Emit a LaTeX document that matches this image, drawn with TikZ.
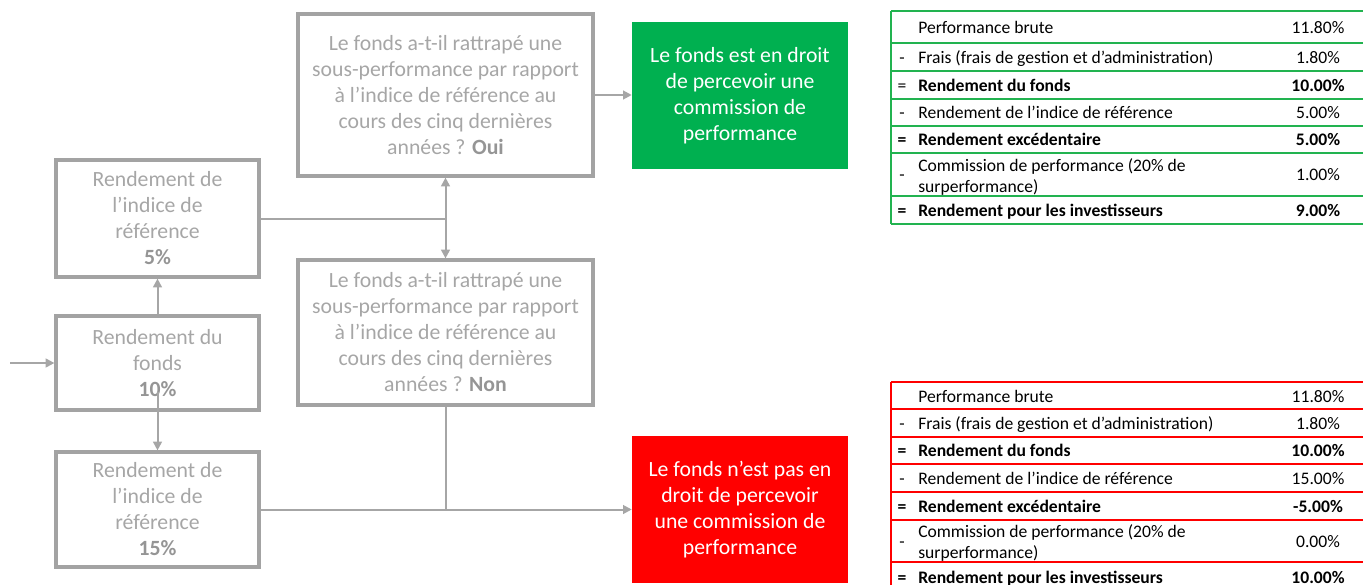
\documentclass[tikz,border=0pt]{standalone}
\usepackage{fontspec}
\setmainfont{Carlito}
\usetikzlibrary{arrows.meta,calc}
\definecolor{boxgray}{HTML}{A3A3A3}
\definecolor{linegray}{HTML}{A6A6A6}
\definecolor{txtgray}{HTML}{A6A6A6}
\definecolor{boldgray}{HTML}{959595}
\definecolor{okgreen}{HTML}{00B050}
\definecolor{nored}{HTML}{FF0000}
\definecolor{tgreen}{HTML}{22B350}
\newcommand{\bg}[1]{\textcolor{boldgray}{\textbf{#1}}}
\tikzset{
  graybox/.style={draw=boxgray, line width=2.4pt, rectangle, inner sep=0pt,
    align=center, text=txtgray, font=\fontsize{16.3}{19.5}\selectfont},
  resbox/.style={rectangle, inner sep=0pt, align=center, text=white,
    minimum width=162pt, minimum height=110.25pt, font=\fontsize{16.3}{19.5}\selectfont},
  conn/.style={draw=linegray, line width=1.5pt},
  arr/.style={conn, -{Triangle[length=6.5pt,width=6.5pt]}},
  darr/.style={conn, {Triangle[length=6.5pt,width=6.5pt]}-{Triangle[length=6.5pt,width=6.5pt]}},
  tsign/.style={inner sep=0pt, yshift=-1.5pt, font=\fontsize{13.2}{15.75}\selectfont},
  ttext/.style={inner sep=0pt, yshift=-1.5pt, anchor=west, align=left, font=\fontsize{13.2}{15.75}\selectfont},
  tval/.style={inner sep=0pt, yshift=-1.5pt, font=\fontsize{13.2}{15.75}\selectfont},
}
\begin{document}
\begin{tikzpicture}[x=0.75pt,y=-0.75pt]
\useasboundingbox (0,0) rectangle (1363,585);
\clip (0,0) rectangle (1363,585);

% left boxes
\node[graybox, minimum width=152.25pt, minimum height=87.75pt] (A) at (157.5,218.5)
  {Rendement de\\l’indice de\\référence\\\bg{5\%}};
\node[graybox, minimum width=152.25pt, minimum height=70.5pt] (B) at (157.5,363)
  {Rendement du\\fonds\\\bg{10\%}};
\node[graybox, minimum width=152.25pt, minimum height=86.25pt] (C) at (157.5,509.5)
  {Rendement de\\l’indice de\\référence\\\bg{15\%}};

% question boxes
\node[graybox, minimum width=221.25pt, minimum height=121.5pt] (Q1) at (445.5,95)
  {Le fonds a-t-il rattrapé une\\sous-performance par rapport\\à l’indice de référence au\\cours des cinq dernières\\années ? \bg{Oui}};
\node[graybox, minimum width=221.25pt, minimum height=108.75pt] (Q2) at (445.5,332.5)
  {Le fonds a-t-il rattrapé une\\sous-performance par rapport\\à l’indice de référence au\\cours des cinq dernières\\années ? \bg{Non}};

% result boxes
\node[resbox, fill=okgreen] (G) at (740,95.5)
  {Le fonds est en droit\\de percevoir une\\commission de\\performance};
\node[resbox, fill=nored] (R) at (740,509.5)
  {Le fonds n’est pas en\\droit de percevoir\\une commission de\\performance};

% connectors
\coordinate (start) at (10,363);
\draw[arr] (start) -- (B.west);
\draw[arr] (B.north) -- (A.south);
\coordinate (bin) at ($(B.south)+(0,-20)$);
\draw[arr] (bin) -- (C.north);
\draw[conn] (A.east) -- (A.east -| Q1.south);
\draw[darr] (Q1.south) -- (Q2.north);
\draw[arr] (Q1.east) -- (Q1.east -| G.west);
\draw[conn] (Q2.south) -- (Q2.south |- C.east);
\draw[arr] (C.east) -- (R.west);

% green table
\foreach \yy in {11,43,71,99,126,153,196,224}
  \draw[tgreen, line width=1.5pt] (891,\yy) -- (1370,\yy);
\draw[tgreen, line width=1.5pt] (891,11) -- (891,224);
\node[ttext] (g1) at (918,27) {\strut Performance brute};
\node[tval] (g1v) at (1318,27) {\strut 11.80\%};
\node[tsign] (g2s) at (902,57) {\strut -};
\node[ttext] (g2) at (918,57) {\strut Frais (frais de gestion et d’administration)};
\node[tval] (g2v) at (1318,57) {\strut 1.80\%};
\node[tsign] (g3s) at (902,85) {\strut =};
\node[ttext] (g3) at (918,85) {\strut\textbf{Rendement du fonds}};
\node[tval] (g3v) at (1318,85) {\strut\textbf{10.00\%}};
\node[tsign] (g4s) at (902,112.5) {\strut -};
\node[ttext] (g4) at (918,112.5) {\strut Rendement de l’indice de référence};
\node[tval] (g4v) at (1318,112.5) {\strut 5.00\%};
\node[tsign] (g5s) at (902,139.5) {\strut\textbf{=}};
\node[ttext] (g5) at (918,139.5) {\strut\textbf{Rendement excédentaire}};
\node[tval] (g5v) at (1318,139.5) {\strut\textbf{5.00\%}};
\node[tsign] (g6s) at (902,174.5) {\strut -};
\node[ttext] (g6) at (918,174.5) {Commission de performance (20\% de\\surperformance)};
\node[tval] (g6v) at (1318,174.5) {\strut 1.00\%};
\node[tsign] (g7s) at (902,210) {\strut\textbf{=}};
\node[ttext] (g7) at (918,210) {\strut\textbf{Rendement pour les investisseurs}};
\node[tval] (g7v) at (1318,210) {\strut\textbf{9.00\%}};

% red table
\foreach \yy in {382,409,437,464,492,520,562,590}
  \draw[nored, line width=1.5pt] (891,\yy) -- (1370,\yy);
\draw[nored, line width=1.5pt] (891,382) -- (891,590);
\node[ttext] (r1) at (918,396) {\strut Performance brute};
\node[tval] (r1v) at (1318,396) {\strut 11.80\%};
\node[tsign] (r2s) at (902,423) {\strut -};
\node[ttext] (r2) at (918,423) {\strut Frais (frais de gestion et d’administration)};
\node[tval] (r2v) at (1318,423) {\strut 1.80\%};
\node[tsign] (r3s) at (902,450.5) {\strut\textbf{=}};
\node[ttext] (r3) at (918,450.5) {\strut\textbf{Rendement du fonds}};
\node[tval] (r3v) at (1318,450.5) {\strut\textbf{10.00\%}};
\node[tsign] (r4s) at (902,478) {\strut -};
\node[ttext] (r4) at (918,478) {\strut Rendement de l’indice de référence};
\node[tval] (r4v) at (1318,478) {\strut 15.00\%};
\node[tsign] (r5s) at (902,506) {\strut\textbf{=}};
\node[ttext] (r5) at (918,506) {\strut\textbf{Rendement excédentaire}};
\node[tval] (r5v) at (1318,506) {\strut\textbf{-5.00\%}};
\node[tsign] (r6s) at (902,541) {\strut -};
\node[ttext] (r6) at (918,541) {Commission de performance (20\% de\\surperformance)};
\node[tval] (r6v) at (1318,541) {\strut 0.00\%};
\node[tsign] (r7s) at (902,577) {\strut\textbf{=}};
\node[ttext] (r7) at (918,577) {\strut\textbf{Rendement pour les investisseurs}};
\node[tval] (r7v) at (1318,577) {\strut\textbf{10.00\%}};
\end{tikzpicture}
\end{document}
